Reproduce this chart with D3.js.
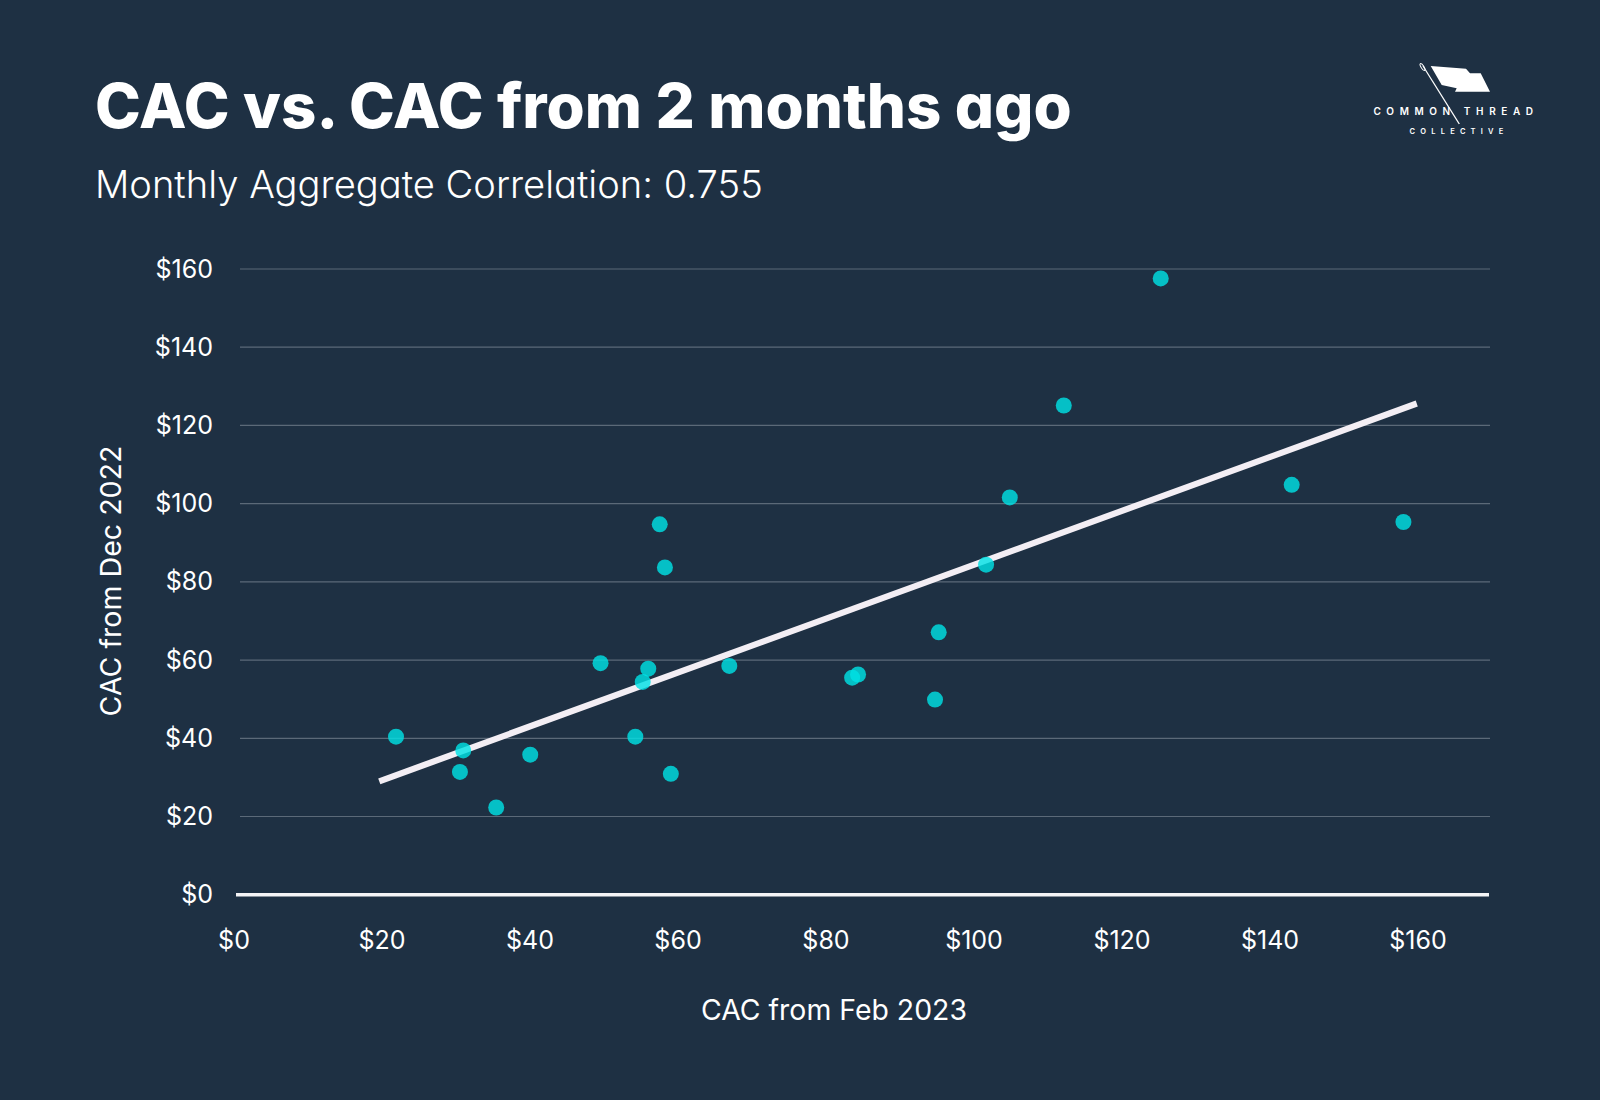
<!DOCTYPE html>
<html><head><meta charset="utf-8">
<script src="https://cdn.jsdelivr.net/npm/d3@7"></script>
<style>
html,body{margin:0;padding:0;background:#1e3043;}
svg{display:block;}
text{font-family:Inter,"Noto Sans",sans-serif;font-feature-settings:"cv11" 1;}
</style></head><body>
<svg id="chart" width="1600" height="1100"></svg>
<script>
// ---- data ----
const titleText = "CAC vs. CAC from 2 months ago";
const subtitleText = "Monthly Aggregate Correlation: 0.755";
const xTitleText = "CAC from Feb 2023";
const yTitleText = "CAC from Dec 2022";
const cacFeb2023 = [21.96, 31.05, 30.6, 35.5, 40.1, 49.6, 54.3, 55.3, 56.05, 57.6, 58.3, 59.1, 67.0, 83.6, 84.4, 94.8, 95.3, 101.7, 104.9, 112.2, 125.3, 143.0, 158.1];
const cacDec2022 = [40.4, 36.9, 31.4, 22.3, 35.8, 59.2, 40.4, 54.4, 57.8, 94.7, 83.7, 30.9, 58.5, 55.5, 56.3, 49.9, 67.1, 84.4, 101.6, 125.1, 157.6, 104.8, 95.3];
const xTickValues = [0, 20, 40, 60, 80, 100, 120, 140, 160];
const yTickValues = [0, 20, 40, 60, 80, 100, 120, 140, 160];
const trendX = [19.7, 159.9];
const trendY = [29.0, 125.6];

function draw(){
  const svg = d3.select("#chart");
  svg.append("rect").attr("width",1600).attr("height",1100).attr("fill","#1e3043");

  const x = d3.scaleLinear().domain([0,170]).range([233.5,1491.5]);
  const y = d3.scaleLinear().domain([0,160]).range([894.7,269]);

  function fit(sel, target){
    const fs = parseFloat(sel.attr("font-size"));
    const w = sel.node().getComputedTextLength();
    if (w>0) sel.attr("font-size", fs*target/w);
  }

  // title & subtitle
  const t = svg.append("text").attr("x",95).attr("y",128.3)
    .attr("font-size",64).attr("font-weight",800).attr("fill","#ffffff").text(titleText);
  fit(t, 977);
  const st = svg.append("text").attr("x",95).attr("y",198.3)
    .attr("font-size",40).attr("font-weight",300).attr("fill","#ffffff").text(subtitleText);
  fit(st, 668);

  // gridlines
  svg.append("g").selectAll("line").data(yTickValues.filter(d=>d>0)).join("line")
    .attr("x1",240).attr("x2",1490)
    .attr("y1",d=>y(d)).attr("y2",d=>y(d))
    .attr("stroke","#5b6978").attr("stroke-width",1.2);
  // zero line
  svg.append("line").attr("x1",236).attr("x2",1489).attr("y1",y(0)).attr("y2",y(0))
    .attr("stroke","#f4f4f6").attr("stroke-width",3.6);

  // y axis labels
  const ya = svg.append("g").attr("transform","translate(223,0)")
    .call(d3.axisLeft(y).tickValues(yTickValues).tickFormat(d=>"$"+d).tickSize(0).tickPadding(10));
  ya.select(".domain").remove();
  ya.selectAll("text").attr("font-size",25).attr("fill","#ffffff")
    .style("font-family","Inter, 'Noto Sans', sans-serif");

  // x axis labels
  const xa = svg.append("g").attr("transform","translate(0,931)")
    .call(d3.axisBottom(x).tickValues(xTickValues).tickFormat(d=>"$"+d).tickSize(0).tickPadding(0));
  xa.select(".domain").remove();
  xa.selectAll("text").attr("font-size",25).attr("fill","#ffffff")
    .style("font-family","Inter, 'Noto Sans', sans-serif");

  // axis titles
  const xt = svg.append("text").attr("x",834).attr("y",1019.5).attr("text-anchor","middle")
    .attr("font-size",27).attr("fill","#ffffff").text(xTitleText);
  fit(xt, 266);
  const yt = svg.append("text").attr("transform","translate(121,581) rotate(-90)").attr("text-anchor","middle")
    .attr("font-size",27).attr("fill","#ffffff").text(yTitleText);
  fit(yt, 271);

  // trend line
  svg.append("line")
    .attr("x1",x(trendX[0])).attr("y1",y(trendY[0]))
    .attr("x2",x(trendX[1])).attr("y2",y(trendY[1]))
    .attr("stroke","#f3eef4").attr("stroke-width",6.2).attr("stroke-linecap","butt");

  // points
  const pts = cacFeb2023.map((v,i)=>({x:v,y:cacDec2022[i]}));
  svg.append("g").selectAll("circle").data(pts).join("circle")
    .attr("cx",d=>x(d.x)).attr("cy",d=>y(d.y)).attr("r",8)
    .attr("fill","#00e2e5").attr("fill-opacity",0.81);

  // logo
  const logo = svg.append("g");
  logo.append("path")
    .attr("d","M1430.7,66 L1466,68.7 L1470,73.3 L1480.7,73.3 L1490,91.7 L1455,91.7 L1456.7,88.3 L1441.7,85 Z")
    .attr("fill","#ffffff");
  logo.append("line").attr("x1",1423).attr("y1",66).attr("x2",1459.3).attr("y2",124)
    .attr("stroke","#ffffff").attr("stroke-width",1.3);
  logo.append("ellipse").attr("cx",0).attr("cy",0).attr("rx",1.4).attr("ry",4)
    .attr("transform","translate(1422.5,67) rotate(-32)")
    .attr("fill","none").attr("stroke","#ffffff").attr("stroke-width",1);
  logo.append("text").attr("x",1456).attr("y",115).attr("text-anchor","middle")
    .attr("font-size",10).attr("font-weight",600).attr("letter-spacing",5.6).attr("fill","#ffffff")
    .text("COMMON THREAD");
  logo.append("text").attr("x",1459).attr("y",133.5).attr("text-anchor","middle")
    .attr("font-size",7.5).attr("font-weight",600).attr("letter-spacing",5.2).attr("fill","#ffffff")
    .text("COLLECTIVE");
}
if (document.fonts && document.fonts.ready) {
  document.fonts.load("800 64px Inter").then(()=>document.fonts.load("300 40px Inter")).then(()=>document.fonts.load("400 25px Inter")).then(draw, draw);
} else draw();
</script>
</body></html>
